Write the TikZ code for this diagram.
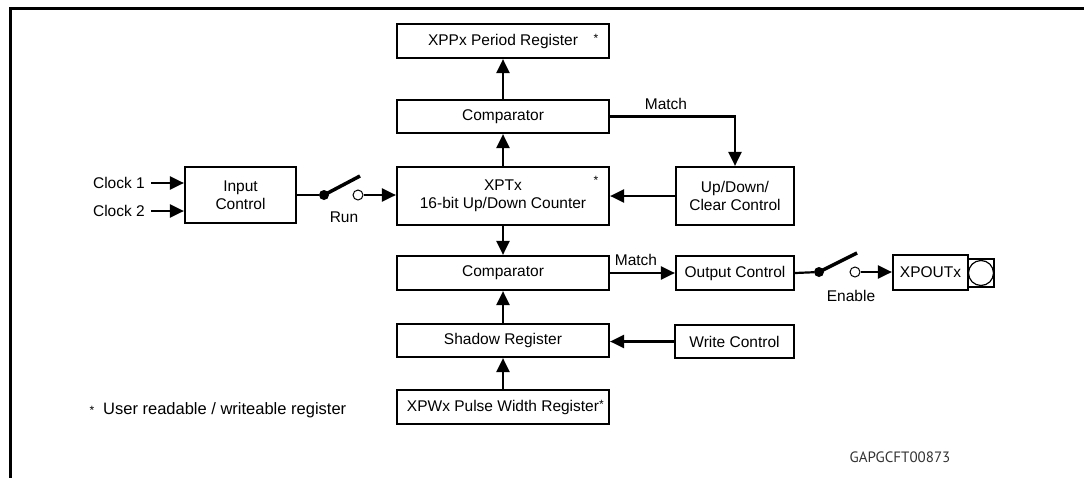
\documentclass[tikz,border=0pt]{standalone}
\usepackage{fontspec}
\setmainfont{Liberation Sans}
\newfontfamily\codefont{PT Sans}
\usetikzlibrary{arrows.meta}
\begin{document}
\begin{tikzpicture}[x=1pt,y=-1pt,
  blk/.style={draw, line width=2.2pt, inner sep=0pt, align=center, font=\fontsize{15.5}{18}\selectfont},
  lbl/.style={inner sep=0pt, font=\fontsize{15.5}{18}\selectfont},
  ast/.style={inner sep=0pt, font=\fontsize{12}{12}\selectfont},
  con/.style={line width=2.2pt},
  arr/.style={line width=2.2pt, -{Triangle[length=14pt,width=13pt]}},
  dot/.style={circle, fill, inner sep=0pt, minimum size=10pt},
  ocirc/.style={circle, draw, line width=1pt, inner sep=0pt, minimum size=10pt},
  lever/.style={line width=3.5pt},
]
\useasboundingbox (0,0) rectangle (1084,477);
\draw[line width=3pt] (10,490) -- (10,8) -- (1100,8);

% blocks
\node[blk, minimum width=212pt, minimum height=34pt] (xpp) at (503,41) {XPPx Period Register};
\node[ast] (axpp) at (596,38) {*};
\node[blk, minimum width=212pt, minimum height=33pt] (cmp1) at (503,116.5) {Comparator};
\node[blk, minimum width=212pt, minimum height=58pt] (cnt) at (503,196) {XPTx\\16-bit Up/Down Counter};
\node[ast] (acnt) at (596,180) {*};
\node[blk, minimum width=118pt, minimum height=58pt] (udc) at (735,196) {Up/Down/\\Clear Control};
\node[blk, minimum width=111pt, minimum height=56pt] (inp) at (240.5,195) {Input\\Control};
\node[blk, minimum width=212pt, minimum height=34pt] (cmp2) at (503,273) {Comparator};
\node[blk, minimum width=118pt, minimum height=34pt] (oc) at (735,273) {Output Control};
\node[blk, minimum width=75pt, minimum height=35pt] (xpo) at (930.5,272.5) {XPOUTx};
\node[draw, line width=1.5pt, inner sep=0pt, minimum width=26pt, minimum height=28pt] (pin) at (981,273) {};
\draw[line width=1.2pt] (pin.center) circle (12.5);
\node[blk, minimum width=212pt, minimum height=33pt] (shd) at (503,340.5) {Shadow Register};
\node[blk, minimum width=119pt, minimum height=33pt] (wc) at (734.5,341.5) {Write Control};
\node[blk, minimum width=212pt, minimum height=34pt] (xpw) at (503,407) {XPWx Pulse Width Register\rlap{\raisebox{3pt}{\fontsize{12}{12}\selectfont *}}};

% labels
\node[lbl, anchor=east] (clk1) at (145,183) {Clock 1};
\node[lbl, anchor=east] (clk2) at (145,211) {Clock 2};
\node[lbl] (run) at (344,217) {Run};
\node[lbl] (en) at (851,296) {Enable};
\node[lbl] (m1) at (666,104) {Match};
\node[lbl] (m2) at (636,260) {Match};
\node[inner sep=0pt, anchor=west, font=\fontsize{16.5}{18}\selectfont] (note) at (103,410) {User readable / writeable register};
\node[ast] (anote) at (92,410) {*};
\node[inner sep=0pt, text=black!80, font=\codefont\fontsize{15}{16}\selectfont] (code) at (900,457) {GAPGCFT00873};

% switches
\node[dot] (d1) at (324,195) {};
\node[ocirc] (o1) at (358,195) {};
\coordinate (l1) at (360,176);
\node[dot] (d2) at (819,272) {};
\node[ocirc] (o2) at (855,272) {};
\coordinate (l2) at (857,253);

% connectors
\draw[arr] ([xshift=6pt]clk1.east) -- (clk1.east -| inp.west);
\draw[arr] ([xshift=6pt]clk2.east) -- (clk2.east -| inp.west);
\draw[con] (inp.east |- d1) -- (d1);
\draw[lever] (d1.center) -- (l1);
\draw[arr] (o1) -- (o1 -| cnt.west);
\draw[arr] (cnt.north) -- (cmp1.south);
\draw[arr] (cmp1.north) -- (xpp.south);
\draw[arr] (cmp1.east) -| (udc.north);
\draw[arr] (udc.west) -- (cnt.east);
\draw[arr] (cnt.south) -- (cmp2.north);
\draw[arr] (cmp2.east) -- (oc.west);
\draw[con] (oc.east) -- (d2);
\draw[lever] (d2.center) -- (l2);
\draw[arr] (o2) -- (o2 -| xpo.west);
\draw[arr] (shd.north) -- (cmp2.south);
\draw[arr] (wc.west) -- (wc.west -| shd.east);
\draw[arr] (xpw.north) -- (shd.south);
\end{tikzpicture}
\end{document}
